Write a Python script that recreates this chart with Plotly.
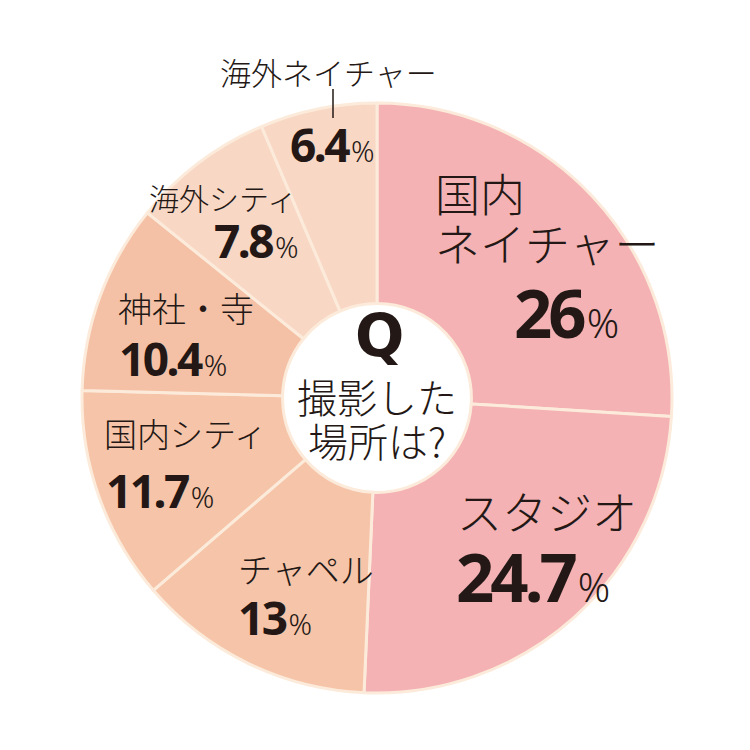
import plotly.graph_objects as go

labels = ["国内ネイチャー", "スタジオ", "チャペル", "国内シティ", "神社・寺", "海外シティ", "海外ネイチャー"]
values = [26, 24.7, 13, 11.7, 10.4, 7.8, 6.4]
colors = ["#F4B2B4", "#F4B2B4", "#F6C4A8", "#F6C4A8", "#F5C1A6", "#F9D7C5", "#F9D7C5"]

W = 750.0
JP = "Noto Sans CJK JP"
NUM = "Noto Sans, Open Sans, sans-serif"
INK = "#231815"

fig = go.Figure(go.Pie(
    labels=labels, values=values, sort=False, direction="clockwise", rotation=0,
    hole=0.32, marker=dict(colors=colors, line=dict(color="#FCEBDA", width=3)),
    textinfo="none", hoverinfo="label+percent", showlegend=False,
    domain=dict(x=[82 / W, 672 / W], y=[1 - 693 / W, 1 - 103 / W]),
))


def pct(v, big):
    s = f"{v:g}"
    a, b, ls = (67, 40, -4) if big else (46, 29, -2.5)
    return (f'<span style="font-family:{NUM};font-weight:bold;letter-spacing:{ls}px;font-size:{a}px">{s}</span>'
            f'<span style="font-family:{NUM};font-weight:300;font-size:{b}px">\u200a%</span>')


ann = []


def add(text, px, py, size=None, xanchor="left", family=JP, weight=300):
    d = dict(text=text, x=px / W, y=1 - py / W, xref="paper", yref="paper",
             xanchor=xanchor, yanchor="middle", showarrow=False,
             font=dict(family=family, color=INK, size=size if size else 30, weight=weight))
    ann.append(d)


name_pos = {
    "スタジオ": (455, 510, 45),
    "チャペル": (236, 568, 34),
    "国内シティ": (102, 433, 33),
    "神社・寺": (116, 307, 34),
    "海外シティ": (147, 197, 30),
}
pct_pos = [(512, 312, True), (454, 576, True), (236, 617, False), (104, 490, False),
           (117, 358, False), (212, 240, False), (288, 144, False)]

add("国内", 433, 192, 45)
add("ネイチャー", 433, 242, 45)
for lab in labels[1:6]:
    x, y, s = name_pos[lab]
    add(lab, x, y, s)
add(labels[6], 328, 71, 31, xanchor="center")

for (x, y, big), v in zip(pct_pos, values):
    add(pct(v, big), x, y, family=NUM, weight=700)

# center text
add("<b>Q</b>", 379, 336, 58, xanchor="center", family="DejaVu Sans, sans-serif", weight=700)
add("撮影した", 377, 396, 40, xanchor="center")
add("場所は?", 377, 440, 40, xanchor="center")

fig.update_layout(
    width=750, height=750, margin=dict(l=0, r=0, t=0, b=0),
    paper_bgcolor="white", plot_bgcolor="white",
    annotations=ann,
    shapes=[dict(type="line", xref="paper", yref="paper", x0=333 / W, x1=333 / W,
                 y0=1 - 89 / W, y1=1 - 118 / W, line=dict(color=INK, width=1.5))],
)
fig.write_html("out.html")
